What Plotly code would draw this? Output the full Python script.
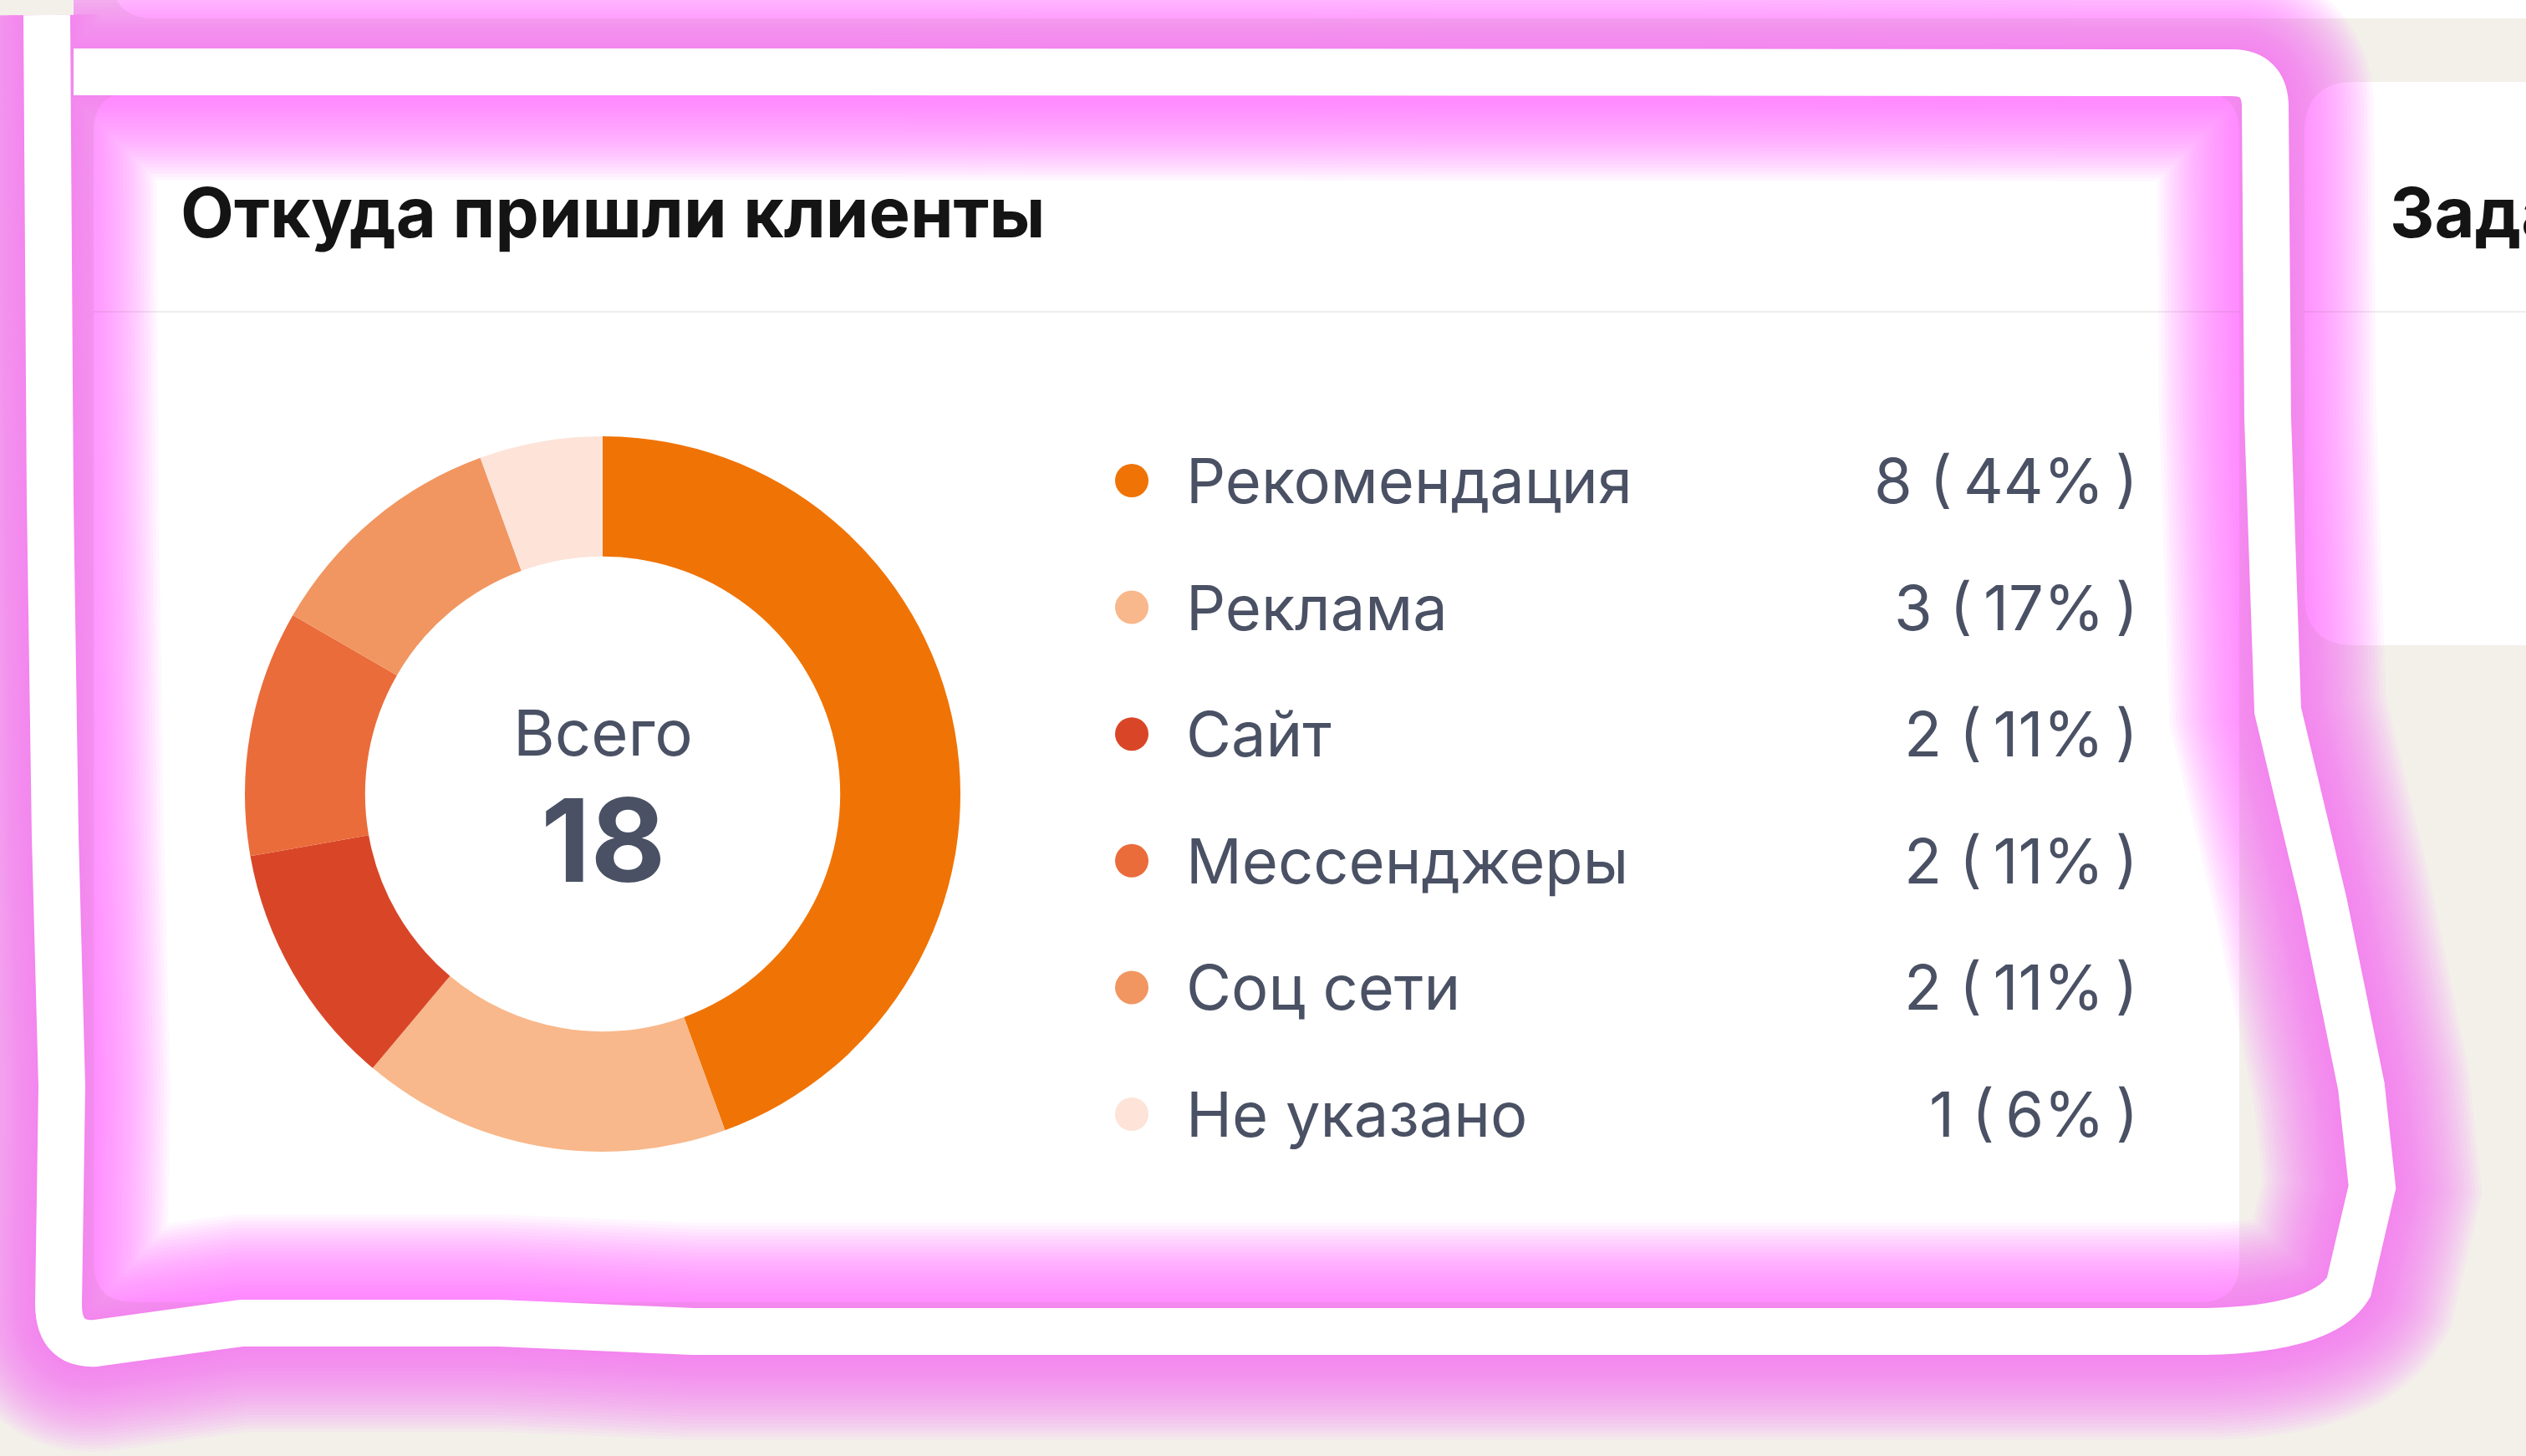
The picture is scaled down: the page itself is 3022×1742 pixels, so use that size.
import plotly.graph_objects as go

# ---------------- data ----------------
title_text = "Откуда пришли клиенты"
categories = ["Рекомендация", "Реклама", "Сайт", "Мессенджеры", "Соц сети", "Не указано"]
values = [8, 3, 2, 2, 2, 1]
colors = ["#F07305", "#F8B88B", "#D94627", "#EA6C3B", "#F19661", "#FDE3D8"]
center_label = "Всего"
next_card_title = "Задачи"

total = sum(values)
percents = [round(v / total * 100) for v in values]

# ---------------- layout constants (pixels) ----------------
W, H = 3022, 1742
TEXT = "#4A5164"
FONT = "Inter"

cx, cy, R = 721, 950, 428
hole = 0.664

row0, row_step = 575, 151.6
dot_x, label_x, value_x = 1354, 1417, 2560


def rrect(x0, y0, x1, y1, r):
    return (f"M {x0+r},{y0} L {x1-r},{y0} Q {x1},{y0} {x1},{y0+r} "
            f"L {x1},{y1-r} Q {x1},{y1} {x1-r},{y1} L {x0+r},{y1} "
            f"Q {x0},{y1} {x0},{y1-r} L {x0},{y0+r} Q {x0},{y0} {x0+r},{y0} Z")


fig = go.Figure()

# donut
fig.add_trace(go.Pie(
    labels=categories, values=values, hole=hole, sort=False,
    direction="clockwise", rotation=0,
    marker=dict(colors=colors, line=dict(width=0)),
    textinfo="none", hoverinfo="skip", showlegend=False,
    domain=dict(x=[(cx - R) / W, (cx + R) / W],
                y=[(H - cy - R) / H, (H - cy + R) / H]),
))

# legend dots
rows_y = [row0 + i * row_step for i in range(len(categories))]
fig.add_trace(go.Scatter(
    x=[dot_x] * len(categories), y=rows_y, mode="markers",
    marker=dict(size=40, color=colors, line=dict(width=0)),
    hoverinfo="skip", showlegend=False,
))

shapes = []
# top card strip
shapes.append(dict(type="path", path=rrect(134, -120, 3200, 22, 50),
                   fillcolor="white", line=dict(width=0), layer="below"))
# main card
shapes.append(dict(type="path", path=rrect(112, 110, 2679, 1558, 48),
                   fillcolor="white", line=dict(width=0), layer="below"))
# right card
shapes.append(dict(type="path", path=rrect(2757, 98, 3200, 772, 60),
                   fillcolor="white", line=dict(width=0), layer="below"))
# header dividers
shapes.append(dict(type="line", x0=112, x1=2679, y0=373, y1=373,
                   line=dict(color="#F1ECEE", width=2), layer="below"))
shapes.append(dict(type="line", x0=2757, x1=3022, y0=373, y1=373,
                   line=dict(color="#F1ECEE", width=2), layer="below"))

# hand-drawn highlight with soft glow
stroke = ("M 56,18 L 60,600 L 66,1000 L 74,1300 L 70,1560 Q 70,1610 115,1607 "
          "L 289,1583 L 597,1583 L 828,1593 L 2640,1593 Q 2780,1590 2810,1540 "
          "L 2838,1420 L 2825,1300 L 2780,1080 L 2725,850 L 2713,500 L 2710,125 "
          "Q 2708,87 2670,87 L 1000,86 L 88,86")
for w in range(260, 56, -8):
    shapes.append(dict(type="path", path=stroke,
                       line=dict(color="rgba(250,118,246,0.055)", width=w),
                       layer="below"))
shapes.append(dict(type="path", path=stroke,
                   line=dict(color="white", width=56), layer="below"))

annotations = []
annotations.append(dict(x=214, y=254, text=title_text, showarrow=False,
                        xanchor="left", yanchor="middle",
                        font=dict(family=FONT, size=83, color="#141414", weight=700)))
annotations.append(dict(x=2857, y=254, text=next_card_title, showarrow=False,
                        xanchor="left", yanchor="middle",
                        font=dict(family=FONT, size=83, color="#141414", weight=700)))
annotations.append(dict(x=cx, y=876, text=center_label, showarrow=False,
                        xanchor="center", yanchor="middle",
                        font=dict(family=FONT, size=76, color=TEXT)))
annotations.append(dict(x=cx, y=1004, text=str(total), showarrow=False,
                        xanchor="center", yanchor="middle",
                        font=dict(family=FONT, size=138, color=TEXT, weight=700)))
for cat, v, p, y in zip(categories, values, percents, rows_y):
    annotations.append(dict(x=label_x, y=y, text=cat, showarrow=False,
                            xanchor="left", yanchor="middle",
                            font=dict(family=FONT, size=74, color=TEXT)))
    annotations.append(dict(x=value_x, y=y, text=f"{v} (\u2009{p}%\u2009)", showarrow=False,
                            xanchor="right", yanchor="middle",
                            font=dict(family=FONT, size=74, color=TEXT)))

fig.update_layout(
    width=W, height=H, margin=dict(l=0, r=0, t=0, b=0, pad=0),
    paper_bgcolor="#F3F0EA", plot_bgcolor="rgba(0,0,0,0)",
    xaxis=dict(range=[0, W], visible=False, fixedrange=True),
    yaxis=dict(range=[H, 0], visible=False, fixedrange=True),
    shapes=shapes, annotations=annotations,
    hovermode=False, showlegend=False,
)

fig.write_html("out.html", config={"displayModeBar": False, "staticPlot": True},
               post_script="document.body.style.margin='0';document.body.style.overflow='hidden';")
